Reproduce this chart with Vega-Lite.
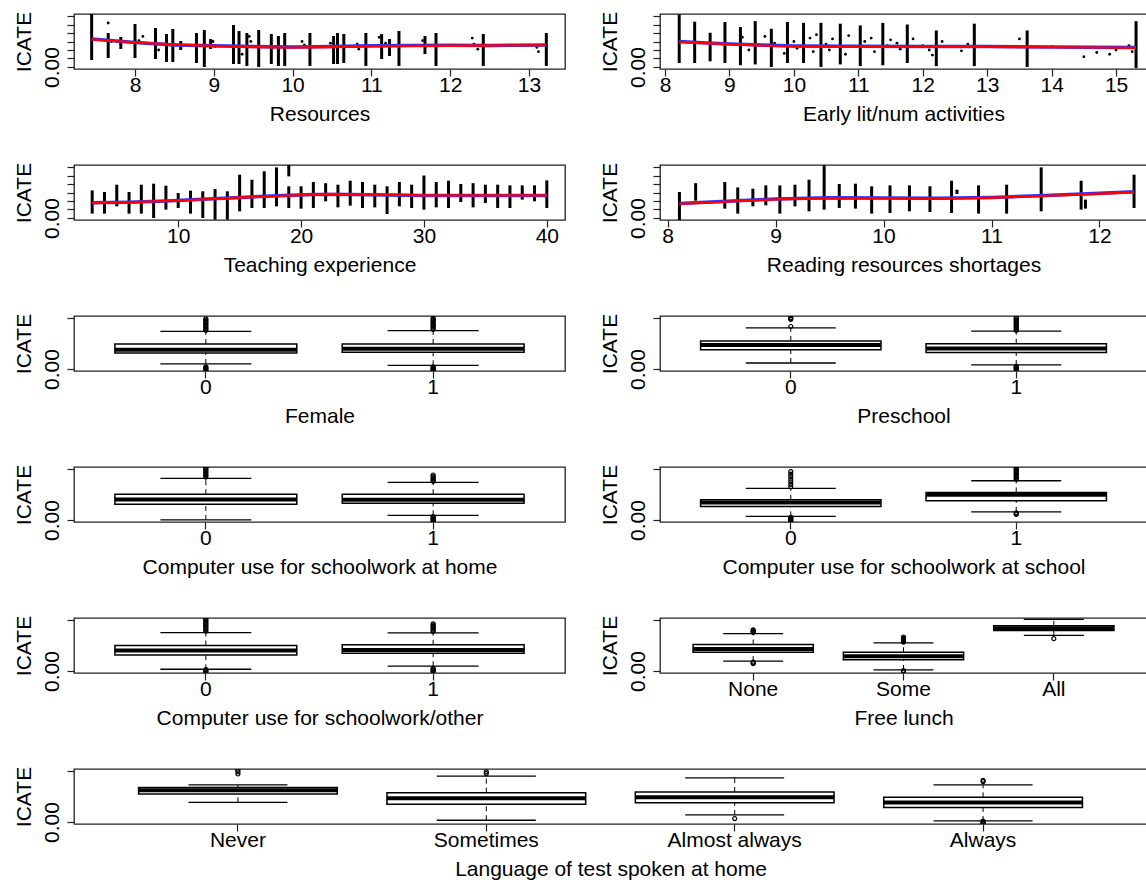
{
  "$schema": "https://vega.github.io/schema/vega-lite/v6.json",
  "background": "white",
  "padding": {"left": 12, "top": 10, "right": 0, "bottom": 0},
  "bounds": "flush",
  "spacing": 151,
  "config": {
    "font": "Liberation Sans",
    "view": {"stroke": "#222222", "strokeWidth": 1.3},
    "axis": {
      "domain": false, "grid": false, "ticks": true,
      "tickColor": "#222222", "tickSize": 7, "tickWidth": 1.2,
      "labelFont": "Liberation Sans", "labelFontSize": 21, "labelColor": "black",
      "titleFont": "Liberation Sans", "titleFontSize": 21, "titleFontWeight": "normal", "titleColor": "black",
      "labelPadding": -2, "titlePadding": 8, "labelOverlap": false, "labelFlush": false
    },
    "axisX": {"labelAngle": 0},
    "axisY": {"labelAngle": 270, "labelAlign": "center", "labelBaseline": "bottom", "labelPadding": 5, "titlePadding": 7}
  },
  "vconcat": [
    {
      "bounds": "flush", "spacing": 95,
      "hconcat": [
        {
          "width": 491, "height": 55,
          "encoding": {
            "x": {"field": "x", "type": "quantitative", "scale": {"domain": [7.226, 13.457], "nice": false, "zero": false}, "axis": {"title": "Resources", "values": [8, 9, 10, 11, 12, 13]}},
            "y": {"field": "y", "type": "quantitative", "scale": {"domain": [-0.0024, 0.0624], "nice": false, "zero": false}, "axis": {"title": "ICATE", "values": [0, 0.01, 0.02, 0.03, 0.04, 0.05, 0.06], "labelExpr": "datum.value === 0 ? '0.00' : ''"}}
          },
          "layer": [
            {"data": {"values": [
              {"x":7.45,"y":0.0624,"bot":0.0082},{"x":7.66,"y":0.040,"bot":0.0106},{"x":7.82,"y":0.0353,"bot":0.0212},{"x":8.0,"y":0.0506,"bot":0.0106},{"x":8.26,"y":0.0459,"bot":0.0094},{"x":8.4,"y":0.0388,"bot":0.0059},{"x":8.48,"y":0.0447,"bot":0.0059},{"x":8.58,"y":0.0306,"bot":0.020},{"x":8.78,"y":0.040,"bot":0.0047},{"x":8.88,"y":0.0435,"bot":0.0},{"x":8.96,"y":0.0329,"bot":0.0212},{"x":9.25,"y":0.0494,"bot":0.0035},{"x":9.32,"y":0.0424,"bot":0.0035},{"x":9.42,"y":0.040,"bot":0.0012},{"x":9.57,"y":0.0435,"bot":0.0},{"x":9.73,"y":0.0388,"bot":0.0035},{"x":9.82,"y":0.0365,"bot":0.0012},{"x":9.9,"y":0.040,"bot":0.0012},{"x":10.22,"y":0.040,"bot":0.0012},{"x":10.52,"y":0.0365,"bot":0.0035},{"x":10.57,"y":0.040,"bot":0.0035},{"x":10.65,"y":0.0388,"bot":0.0047},{"x":10.93,"y":0.040,"bot":0.0012},{"x":11.13,"y":0.0388,"bot":0.0094},{"x":11.23,"y":0.0329,"bot":0.0129},{"x":11.35,"y":0.0424,"bot":0.0012},{"x":11.68,"y":0.0365,"bot":0.0153},{"x":11.82,"y":0.040,"bot":0.0012},{"x":12.42,"y":0.0388,"bot":0.0012},{"x":13.22,"y":0.040,"bot":0.0012}
            ]}, "mark": {"type": "rule", "color": "black", "strokeWidth": 3, "clip": true}, "encoding": {"y2": {"field": "bot"}}},
            {"data": {"values": [
              {"x":7.66,"y":0.0518},{"x":7.7,"y":0.03},{"x":7.82,"y":0.027},{"x":8.05,"y":0.031},{"x":8.1,"y":0.036},{"x":8.3,"y":0.02},{"x":8.52,"y":0.026},{"x":8.99,"y":0.03},{"x":9.02,"y":0.024},{"x":9.36,"y":0.015},{"x":9.45,"y":0.036},{"x":9.47,"y":0.03},{"x":10.12,"y":0.03},{"x":10.15,"y":0.026},{"x":10.48,"y":0.028},{"x":10.82,"y":0.027},{"x":10.84,"y":0.021},{"x":11.1,"y":0.035},{"x":11.18,"y":0.028},{"x":11.65,"y":0.031},{"x":11.7,"y":0.025},{"x":12.28,"y":0.034},{"x":12.3,"y":0.027},{"x":12.35,"y":0.021},{"x":13.1,"y":0.023},{"x":13.12,"y":0.018}
            ]}, "mark": {"type": "circle", "color": "black", "size": 8, "opacity": 1, "clip": true}, "encoding": {}},
            {"data": {"values": [
              {"x":7.45,"y":0.0330},{"x":8,"y":0.0288},{"x":8.5,"y":0.0260},{"x":9,"y":0.0250},{"x":9.5,"y":0.0242},{"x":10,"y":0.0236},{"x":10.5,"y":0.0240},{"x":11,"y":0.0250},{"x":11.5,"y":0.0254},{"x":12,"y":0.0256},{"x":12.5,"y":0.0254},{"x":13.22,"y":0.0260}
            ]}, "mark": {"type": "line", "color": "#3030ff", "strokeWidth": 3.5, "clip": true}, "encoding": {}},
            {"data": {"values": [
              {"x":7.45,"y":0.0326},{"x":8,"y":0.029},{"x":8.5,"y":0.0265},{"x":9,"y":0.0247},{"x":9.5,"y":0.0235},{"x":10,"y":0.0228},{"x":10.5,"y":0.0235},{"x":11,"y":0.0244},{"x":11.5,"y":0.0248},{"x":12,"y":0.025},{"x":12.5,"y":0.0253},{"x":13.22,"y":0.0258}
            ]}, "mark": {"type": "line", "color": "#ff0000", "strokeWidth": 2.3, "clip": true}, "encoding": {}}
          ]
        },
        {
          "width": 487, "height": 55,
          "encoding": {
            "x": {"field": "x", "type": "quantitative", "scale": {"domain": [7.922, 15.48], "nice": false, "zero": false}, "axis": {"title": "Early lit/num activities", "values": [8, 9, 10, 11, 12, 13, 14, 15]}},
            "y": {"field": "y", "type": "quantitative", "scale": {"domain": [-0.0024, 0.0624], "nice": false, "zero": false}, "axis": {"title": "ICATE", "values": [0, 0.01, 0.02, 0.03, 0.04, 0.05, 0.06], "labelExpr": "datum.value === 0 ? '0.00' : ''"}}
          },
          "layer": [
            {"data": {"values": [
              {"x":8.22,"y":0.062,"bot":0.0047},{"x":8.46,"y":0.0534,"bot":0.0047},{"x":8.70,"y":0.0403,"bot":0.0067},{"x":8.93,"y":0.053,"bot":0.0047},{"x":9.17,"y":0.047,"bot":0.002},{"x":9.40,"y":0.054,"bot":0.003},{"x":9.65,"y":0.045,"bot":0.0},{"x":9.90,"y":0.053,"bot":0.0047},{"x":10.15,"y":0.052,"bot":0.0047},{"x":10.42,"y":0.052,"bot":0.0},{"x":10.72,"y":0.051,"bot":0.003},{"x":11.03,"y":0.049,"bot":0.001},{"x":11.38,"y":0.052,"bot":0.002},{"x":11.76,"y":0.05,"bot":0.0047},{"x":12.21,"y":0.043,"bot":0.001},{"x":12.80,"y":0.051,"bot":0.001},{"x":13.62,"y":0.043,"bot":0.0},{"x":15.31,"y":0.054,"bot":-0.0012}
            ]}, "mark": {"type": "rule", "color": "black", "strokeWidth": 3, "clip": true}, "encoding": {"y2": {"field": "bot"}}},
            {"data": {"values": [
              {"x":9.2,"y":0.035},{"x":9.3,"y":0.02},{"x":9.55,"y":0.036},{"x":9.7,"y":0.028},{"x":9.85,"y":0.016},{"x":10.0,"y":0.03},{"x":10.05,"y":0.022},{"x":10.25,"y":0.034},{"x":10.3,"y":0.018},{"x":10.35,"y":0.038},{"x":10.5,"y":0.027},{"x":10.55,"y":0.02},{"x":10.6,"y":0.033},{"x":10.8,"y":0.015},{"x":10.85,"y":0.037},{"x":10.9,"y":0.024},{"x":11.1,"y":0.03},{"x":11.2,"y":0.034},{"x":11.25,"y":0.018},{"x":11.45,"y":0.025},{"x":11.5,"y":0.032},{"x":11.6,"y":0.028},{"x":11.65,"y":0.021},{"x":11.85,"y":0.033},{"x":12.0,"y":0.025},{"x":12.1,"y":0.02},{"x":12.15,"y":0.014},{"x":12.3,"y":0.03},{"x":12.6,"y":0.019},{"x":12.7,"y":0.027},{"x":13.5,"y":0.033},{"x":14.0,"y":0.024},{"x":14.5,"y":0.012},{"x":14.7,"y":0.017},{"x":14.9,"y":0.015},{"x":15.0,"y":0.02},{"x":15.2,"y":0.025},{"x":15.25,"y":0.018}
            ]}, "mark": {"type": "circle", "color": "black", "size": 8, "opacity": 1, "clip": true}, "encoding": {}},
            {"data": {"values": [
              {"x":8.22,"y":0.0300},{"x":8.5,"y":0.0288},{"x":9,"y":0.0272},{"x":9.5,"y":0.0258},{"x":10,"y":0.0248},{"x":11,"y":0.0243},{"x":12,"y":0.0240},{"x":13,"y":0.0240},{"x":14,"y":0.0236},{"x":15.31,"y":0.0228}
            ]}, "mark": {"type": "line", "color": "#3030ff", "strokeWidth": 3.5, "clip": true}, "encoding": {}},
            {"data": {"values": [
              {"x":8.22,"y":0.0296},{"x":8.5,"y":0.0285},{"x":9,"y":0.0268},{"x":9.5,"y":0.0252},{"x":10,"y":0.0243},{"x":10.5,"y":0.0240},{"x":11,"y":0.0238},{"x":12,"y":0.0237},{"x":13,"y":0.0237},{"x":14,"y":0.0233},{"x":15.31,"y":0.0225}
            ]}, "mark": {"type": "line", "color": "#ff0000", "strokeWidth": 2.3, "clip": true}, "encoding": {}}
          ]
        }
      ]
    },
    {
      "bounds": "flush", "spacing": 95,
      "hconcat": [
        {
          "width": 491, "height": 55,
          "encoding": {
            "x": {"field": "x", "type": "quantitative", "scale": {"domain": [1.52, 41.48], "nice": false, "zero": false}, "axis": {"title": "Teaching experience", "values": [10, 20, 30, 40]}},
            "y": {"field": "y", "type": "quantitative", "scale": {"domain": [-0.0024, 0.0624], "nice": false, "zero": false}, "axis": {"title": "ICATE", "values": [0, 0.01, 0.02, 0.03, 0.04, 0.05, 0.06], "labelExpr": "datum.value === 0 ? '0.00' : ''"}}
          },
          "layer": [
            {"data": {"values": [
              {"x":3,"y":0.0325,"bot":0.0051},{"x":4,"y":0.0306,"bot":0.0051},{"x":5,"y":0.0392,"bot":0.0137},{"x":6,"y":0.0306,"bot":0.0051},{"x":7,"y":0.0392,"bot":0.0051},{"x":8,"y":0.0404,"bot":0.0},{"x":9,"y":0.038,"bot":0.0098},{"x":10,"y":0.0294,"bot":0.0118},{"x":11,"y":0.0322,"bot":0.0051},{"x":12,"y":0.0314,"bot":0.0},{"x":13,"y":0.034,"bot":-0.002},{"x":14,"y":0.0314,"bot":-0.002},{"x":15,"y":0.051,"bot":0.0078},{"x":16,"y":0.045,"bot":0.0118},{"x":17,"y":0.055,"bot":0.0118},{"x":18,"y":0.0596,"bot":0.0137},{"x":19,"y":0.0373,"bot":0.0118},{"x":19,"y":0.0624,"bot":0.049},{"x":20,"y":0.0373,"bot":0.011},{"x":21,"y":0.0424,"bot":0.0118},{"x":22,"y":0.041,"bot":0.0196},{"x":23,"y":0.0392,"bot":0.0125},{"x":24,"y":0.0439,"bot":0.0145},{"x":25,"y":0.0424,"bot":0.0118},{"x":26,"y":0.0392,"bot":0.0125},{"x":27,"y":0.0373,"bot":0.0047},{"x":28,"y":0.0424,"bot":0.0137},{"x":29,"y":0.0392,"bot":0.0118},{"x":30,"y":0.050,"bot":0.0098},{"x":31,"y":0.0424,"bot":0.0125},{"x":32,"y":0.0439,"bot":0.0118},{"x":33,"y":0.040,"bot":0.0188},{"x":34,"y":0.041,"bot":0.0125},{"x":35,"y":0.0392,"bot":0.0176},{"x":36,"y":0.0392,"bot":0.0118},{"x":37,"y":0.0384,"bot":0.0118},{"x":38,"y":0.0384,"bot":0.0216},{"x":39,"y":0.0384,"bot":0.0196},{"x":40,"y":0.0443,"bot":0.0118}
            ]}, "mark": {"type": "rule", "color": "black", "strokeWidth": 3, "clip": true}, "encoding": {"y2": {"field": "bot"}}},
            {"data": {"values": [
              {"x":3,"y":0.0180},{"x":6,"y":0.0186},{"x":9,"y":0.0200},{"x":12,"y":0.0220},{"x":15,"y":0.0240},{"x":18,"y":0.0262},{"x":21,"y":0.0276},{"x":24,"y":0.0276},{"x":27,"y":0.0270},{"x":30,"y":0.0265},{"x":35,"y":0.0264},{"x":40,"y":0.0266}
            ]}, "mark": {"type": "line", "color": "#3030ff", "strokeWidth": 3.5, "clip": true}, "encoding": {}},
            {"data": {"values": [
              {"x":3,"y":0.0176},{"x":5,"y":0.0180},{"x":8,"y":0.0196},{"x":10,"y":0.0205},{"x":12,"y":0.0218},{"x":14,"y":0.0232},{"x":16,"y":0.0247},{"x":18,"y":0.0258},{"x":20,"y":0.0268},{"x":22,"y":0.0284},{"x":24,"y":0.0282},{"x":26,"y":0.0275},{"x":28,"y":0.0271},{"x":30,"y":0.0266},{"x":34,"y":0.0266},{"x":40,"y":0.0266}
            ]}, "mark": {"type": "line", "color": "#ff0000", "strokeWidth": 2.3, "clip": true}, "encoding": {}}
          ]
        },
        {
          "width": 487, "height": 55,
          "encoding": {
            "x": {"field": "x", "type": "quantitative", "scale": {"domain": [7.93, 12.44], "nice": false, "zero": false}, "axis": {"title": "Reading resources shortages", "values": [8, 9, 10, 11, 12]}},
            "y": {"field": "y", "type": "quantitative", "scale": {"domain": [-0.0024, 0.0624], "nice": false, "zero": false}, "axis": {"title": "ICATE", "values": [0, 0.01, 0.02, 0.03, 0.04, 0.05, 0.06], "labelExpr": "datum.value === 0 ? '0.00' : ''"}}
          },
          "layer": [
            {"data": {"values": [
              {"x":8.11,"y":0.0306,"bot":-0.003},{"x":8.26,"y":0.041,"bot":0.0204},{"x":8.53,"y":0.0424,"bot":0.011},{"x":8.65,"y":0.036,"bot":0.0051},{"x":8.79,"y":0.0345,"bot":0.0137},{"x":8.91,"y":0.0384,"bot":0.0149},{"x":9.04,"y":0.0384,"bot":0.0051},{"x":9.18,"y":0.0392,"bot":0.0137},{"x":9.31,"y":0.0451,"bot":0.0078},{"x":9.45,"y":0.0624,"bot":0.0098},{"x":9.59,"y":0.040,"bot":0.0118},{"x":9.74,"y":0.0404,"bot":0.011},{"x":9.89,"y":0.0373,"bot":0.0051},{"x":10.06,"y":0.0384,"bot":0.0059},{"x":10.24,"y":0.0384,"bot":0.0078},{"x":10.43,"y":0.0373,"bot":0.0071},{"x":10.63,"y":0.0439,"bot":0.0059},{"x":10.68,"y":0.0333,"bot":0.0282},{"x":10.88,"y":0.0384,"bot":0.0051},{"x":11.14,"y":0.0392,"bot":0.0051},{"x":11.46,"y":0.0596,"bot":0.0078},{"x":11.83,"y":0.0439,"bot":0.0098},{"x":11.87,"y":0.0216,"bot":0.011},{"x":12.32,"y":0.051,"bot":0.0118}
            ]}, "mark": {"type": "rule", "color": "black", "strokeWidth": 3, "clip": true}, "encoding": {"y2": {"field": "bot"}}},
            {"data": {"values": [
              {"x":8.11,"y":0.0170},{"x":8.5,"y":0.0195},{"x":9,"y":0.0222},{"x":9.5,"y":0.0238},{"x":10,"y":0.0236},{"x":10.5,"y":0.0232},{"x":11,"y":0.0242},{"x":11.5,"y":0.0264},{"x":12,"y":0.0290},{"x":12.32,"y":0.0308}
            ]}, "mark": {"type": "line", "color": "#3030ff", "strokeWidth": 3.5, "clip": true}, "encoding": {}},
            {"data": {"values": [
              {"x":8.11,"y":0.0165},{"x":8.5,"y":0.0190},{"x":9,"y":0.0218},{"x":9.5,"y":0.0234},{"x":10,"y":0.0232},{"x":10.5,"y":0.0228},{"x":11,"y":0.0238},{"x":11.5,"y":0.0260},{"x":12,"y":0.0285},{"x":12.32,"y":0.0303}
            ]}, "mark": {"type": "line", "color": "#ff0000", "strokeWidth": 2.3, "clip": true}, "encoding": {}}
          ]
        }
      ]
    },
    {
      "bounds": "flush", "spacing": 95,
      "hconcat": [
        {
          "width": 491, "height": 55,
          "data": {"values": [
            {"g":"0","lo":0.0059,"q1":0.0188,"med":0.0227,"q3":0.0294,"hi":0.0443},
            {"g":"1","lo":0.0043,"q1":0.0196,"med":0.0239,"q3":0.0294,"hi":0.0451}
          ]},
          "encoding": {"x": {"field": "g", "type": "nominal", "sort": ["0", "1"], "scale": {"paddingInner": 0.2, "paddingOuter": 0.18}, "axis": {"title": "Female", "labelAngle": 0}}},
          "layer": [
            {"mark": {"type": "rule", "color": "black", "strokeWidth": 1, "strokeDash": [5, 4]}, "encoding": {"y": {"field": "q3", "type": "quantitative", "scale": {"domain": [-0.0024, 0.0624], "nice": false, "zero": false}, "axis": {"title": "ICATE", "values": [0, 0.01, 0.02, 0.03, 0.04, 0.05, 0.06], "labelExpr": "datum.value === 0 ? '0.00' : ''"}}, "y2": {"field": "hi"}}},
            {"mark": {"type": "rule", "color": "black", "strokeWidth": 1, "strokeDash": [5, 4]}, "encoding": {"y": {"field": "lo", "type": "quantitative", "axis": {"title": "ICATE"}}, "y2": {"field": "q1"}}},
            {"mark": {"type": "tick", "color": "black", "opacity": 1, "size": 91, "thickness": 1.3}, "encoding": {"y": {"field": "hi", "type": "quantitative", "axis": {"title": "ICATE"}}}},
            {"mark": {"type": "tick", "color": "black", "opacity": 1, "size": 91, "thickness": 1.3}, "encoding": {"y": {"field": "lo", "type": "quantitative", "axis": {"title": "ICATE"}}}},
            {"mark": {"type": "bar", "fill": "white", "stroke": "black", "strokeWidth": 1.5}, "encoding": {"y": {"field": "q1", "type": "quantitative", "axis": {"title": "ICATE"}}, "y2": {"field": "q3"}}},
            {"mark": {"type": "tick", "color": "black", "opacity": 1, "size": 182, "thickness": 4}, "encoding": {"y": {"field": "med", "type": "quantitative", "axis": {"title": "ICATE"}}}},
            {"data": {"values": [
              {"g":"0","v":0.0455},{"g":"0","v":0.047},{"g":"0","v":0.0485},{"g":"0","v":0.050},{"g":"0","v":0.0515},{"g":"0","v":0.053},{"g":"0","v":0.0545},{"g":"0","v":0.056},{"g":"0","v":0.0575},{"g":"0","v":0.059},{"g":"0","v":0.0025},{"g":"0","v":0.0015},{"g":"0","v":0.0005},{"g":"0","v":-0.0005},{"g":"0","v":-0.0015},
              {"g":"1","v":0.0465},{"g":"1","v":0.048},{"g":"1","v":0.0495},{"g":"1","v":0.051},{"g":"1","v":0.0525},{"g":"1","v":0.054},{"g":"1","v":0.0555},{"g":"1","v":0.057},{"g":"1","v":0.0585},{"g":"1","v":0.060},{"g":"1","v":0.0025},{"g":"1","v":0.0015},{"g":"1","v":0.0005},{"g":"1","v":-0.0005},{"g":"1","v":-0.0015}
            ]}, "mark": {"type": "point", "shape": "circle", "filled": false, "color": "black", "opacity": 1, "size": 16, "strokeWidth": 1.2, "clip": true}, "encoding": {"y": {"field": "v", "type": "quantitative", "axis": {"title": "ICATE"}}}}
          ]
        },
        {
          "width": 487, "height": 55,
          "data": {"values": [
            {"g":"0","lo":0.007,"q1":0.0225,"med":0.0283,"q3":0.033,"hi":0.0484},
            {"g":"1","lo":0.0047,"q1":0.0194,"med":0.024,"q3":0.0298,"hi":0.0446}
          ]},
          "encoding": {"x": {"field": "g", "type": "nominal", "sort": ["0", "1"], "scale": {"paddingInner": 0.2, "paddingOuter": 0.18}, "axis": {"title": "Preschool", "labelAngle": 0}}},
          "layer": [
            {"mark": {"type": "rule", "color": "black", "strokeWidth": 1, "strokeDash": [5, 4]}, "encoding": {"y": {"field": "q3", "type": "quantitative", "scale": {"domain": [-0.0024, 0.0624], "nice": false, "zero": false}, "axis": {"title": "ICATE", "values": [0, 0.01, 0.02, 0.03, 0.04, 0.05, 0.06], "labelExpr": "datum.value === 0 ? '0.00' : ''"}}, "y2": {"field": "hi"}}},
            {"mark": {"type": "rule", "color": "black", "strokeWidth": 1, "strokeDash": [5, 4]}, "encoding": {"y": {"field": "lo", "type": "quantitative", "axis": {"title": "ICATE"}}, "y2": {"field": "q1"}}},
            {"mark": {"type": "tick", "color": "black", "opacity": 1, "size": 90, "thickness": 1.3}, "encoding": {"y": {"field": "hi", "type": "quantitative", "axis": {"title": "ICATE"}}}},
            {"mark": {"type": "tick", "color": "black", "opacity": 1, "size": 90, "thickness": 1.3}, "encoding": {"y": {"field": "lo", "type": "quantitative", "axis": {"title": "ICATE"}}}},
            {"mark": {"type": "bar", "fill": "white", "stroke": "black", "strokeWidth": 1.5}, "encoding": {"y": {"field": "q1", "type": "quantitative", "axis": {"title": "ICATE"}}, "y2": {"field": "q3"}}},
            {"mark": {"type": "tick", "color": "black", "opacity": 1, "size": 180, "thickness": 4}, "encoding": {"y": {"field": "med", "type": "quantitative", "axis": {"title": "ICATE"}}}},
            {"data": {"values": [
              {"g":"0","v":0.050},{"g":"0","v":0.0585},{"g":"0","v":0.0595},{"g":"0","v":0.0605},
              {"g":"1","v":0.0455},{"g":"1","v":0.047},{"g":"1","v":0.0485},{"g":"1","v":0.050},{"g":"1","v":0.0515},{"g":"1","v":0.053},{"g":"1","v":0.0545},{"g":"1","v":0.056},{"g":"1","v":0.0575},{"g":"1","v":0.059},{"g":"1","v":0.0605},{"g":"1","v":0.003},{"g":"1","v":0.002},{"g":"1","v":0.001},{"g":"1","v":0.0},{"g":"1","v":-0.001}
            ]}, "mark": {"type": "point", "shape": "circle", "filled": false, "color": "black", "opacity": 1, "size": 16, "strokeWidth": 1.2, "clip": true}, "encoding": {"y": {"field": "v", "type": "quantitative", "axis": {"title": "ICATE"}}}}
          ]
        }
      ]
    },
    {
      "bounds": "flush", "spacing": 95,
      "hconcat": [
        {
          "width": 491, "height": 55,
          "data": {"values": [
            {"g":"0","lo":0.0,"q1":0.0186,"med":0.0241,"q3":0.0304,"hi":0.049},
            {"g":"1","lo":0.0055,"q1":0.0198,"med":0.0237,"q3":0.0304,"hi":0.0443}
          ]},
          "encoding": {"x": {"field": "g", "type": "nominal", "sort": ["0", "1"], "scale": {"paddingInner": 0.2, "paddingOuter": 0.18}, "axis": {"title": "Computer use for schoolwork at home", "labelAngle": 0}}},
          "layer": [
            {"mark": {"type": "rule", "color": "black", "strokeWidth": 1, "strokeDash": [5, 4]}, "encoding": {"y": {"field": "q3", "type": "quantitative", "scale": {"domain": [-0.0024, 0.0624], "nice": false, "zero": false}, "axis": {"title": "ICATE", "values": [0, 0.01, 0.02, 0.03, 0.04, 0.05, 0.06], "labelExpr": "datum.value === 0 ? '0.00' : ''"}}, "y2": {"field": "hi"}}},
            {"mark": {"type": "rule", "color": "black", "strokeWidth": 1, "strokeDash": [5, 4]}, "encoding": {"y": {"field": "lo", "type": "quantitative", "axis": {"title": "ICATE"}}, "y2": {"field": "q1"}}},
            {"mark": {"type": "tick", "color": "black", "opacity": 1, "size": 91, "thickness": 1.3}, "encoding": {"y": {"field": "hi", "type": "quantitative", "axis": {"title": "ICATE"}}}},
            {"mark": {"type": "tick", "color": "black", "opacity": 1, "size": 91, "thickness": 1.3}, "encoding": {"y": {"field": "lo", "type": "quantitative", "axis": {"title": "ICATE"}}}},
            {"mark": {"type": "bar", "fill": "white", "stroke": "black", "strokeWidth": 1.5}, "encoding": {"y": {"field": "q1", "type": "quantitative", "axis": {"title": "ICATE"}}, "y2": {"field": "q3"}}},
            {"mark": {"type": "tick", "color": "black", "opacity": 1, "size": 182, "thickness": 4}, "encoding": {"y": {"field": "med", "type": "quantitative", "axis": {"title": "ICATE"}}}},
            {"data": {"values": [
              {"g":"0","v":0.0505},{"g":"0","v":0.052},{"g":"0","v":0.0535},{"g":"0","v":0.055},{"g":"0","v":0.0565},{"g":"0","v":0.058},{"g":"0","v":0.0595},{"g":"0","v":0.061},{"g":"0","v":0.062},
              {"g":"1","v":0.0455},{"g":"1","v":0.047},{"g":"1","v":0.0485},{"g":"1","v":0.050},{"g":"1","v":0.0515},{"g":"1","v":0.053},{"g":"1","v":0.004},{"g":"1","v":0.003},{"g":"1","v":0.002},{"g":"1","v":0.001},{"g":"1","v":0.0},{"g":"1","v":-0.001},{"g":"1","v":-0.002}
            ]}, "mark": {"type": "point", "shape": "circle", "filled": false, "color": "black", "opacity": 1, "size": 16, "strokeWidth": 1.2, "clip": true}, "encoding": {"y": {"field": "v", "type": "quantitative", "axis": {"title": "ICATE"}}}}
          ]
        },
        {
          "width": 487, "height": 55,
          "data": {"values": [
            {"g":"0","lo":0.0043,"q1":0.0158,"med":0.0206,"q3":0.0237,"hi":0.0372},
            {"g":"1","lo":0.0095,"q1":0.0225,"med":0.0296,"q3":0.0324,"hi":0.0462}
          ]},
          "encoding": {"x": {"field": "g", "type": "nominal", "sort": ["0", "1"], "scale": {"paddingInner": 0.2, "paddingOuter": 0.18}, "axis": {"title": "Computer use for schoolwork at school", "labelAngle": 0}}},
          "layer": [
            {"mark": {"type": "rule", "color": "black", "strokeWidth": 1, "strokeDash": [5, 4]}, "encoding": {"y": {"field": "q3", "type": "quantitative", "scale": {"domain": [-0.0024, 0.0624], "nice": false, "zero": false}, "axis": {"title": "ICATE", "values": [0, 0.01, 0.02, 0.03, 0.04, 0.05, 0.06], "labelExpr": "datum.value === 0 ? '0.00' : ''"}}, "y2": {"field": "hi"}}},
            {"mark": {"type": "rule", "color": "black", "strokeWidth": 1, "strokeDash": [5, 4]}, "encoding": {"y": {"field": "lo", "type": "quantitative", "axis": {"title": "ICATE"}}, "y2": {"field": "q1"}}},
            {"mark": {"type": "tick", "color": "black", "opacity": 1, "size": 90, "thickness": 1.3}, "encoding": {"y": {"field": "hi", "type": "quantitative", "axis": {"title": "ICATE"}}}},
            {"mark": {"type": "tick", "color": "black", "opacity": 1, "size": 90, "thickness": 1.3}, "encoding": {"y": {"field": "lo", "type": "quantitative", "axis": {"title": "ICATE"}}}},
            {"mark": {"type": "bar", "fill": "white", "stroke": "black", "strokeWidth": 1.5}, "encoding": {"y": {"field": "q1", "type": "quantitative", "axis": {"title": "ICATE"}}, "y2": {"field": "q3"}}},
            {"mark": {"type": "tick", "color": "black", "opacity": 1, "size": 180, "thickness": 4}, "encoding": {"y": {"field": "med", "type": "quantitative", "axis": {"title": "ICATE"}}}},
            {"data": {"values": [
              {"g":"0","v":0.039},{"g":"0","v":0.042},{"g":"0","v":0.045},{"g":"0","v":0.048},{"g":"0","v":0.051},{"g":"0","v":0.054},{"g":"0","v":0.057},{"g":"0","v":0.003},{"g":"0","v":0.002},{"g":"0","v":0.001},{"g":"0","v":0.0},{"g":"0","v":-0.001},{"g":"0","v":-0.002},
              {"g":"1","v":0.048},{"g":"1","v":0.0495},{"g":"1","v":0.051},{"g":"1","v":0.0525},{"g":"1","v":0.054},{"g":"1","v":0.0555},{"g":"1","v":0.057},{"g":"1","v":0.0585},{"g":"1","v":0.060},{"g":"1","v":0.0615},{"g":"1","v":0.0085},{"g":"1","v":0.0075},{"g":"1","v":0.0065}
            ]}, "mark": {"type": "point", "shape": "circle", "filled": false, "color": "black", "opacity": 1, "size": 16, "strokeWidth": 1.2, "clip": true}, "encoding": {"y": {"field": "v", "type": "quantitative", "axis": {"title": "ICATE"}}}}
          ]
        }
      ]
    },
    {
      "bounds": "flush", "spacing": 95,
      "hconcat": [
        {
          "width": 491, "height": 55,
          "data": {"values": [
            {"g":"0","lo":0.002,"q1":0.0188,"med":0.024,"q3":0.030,"hi":0.0452},
            {"g":"1","lo":0.0056,"q1":0.0208,"med":0.0248,"q3":0.0308,"hi":0.0448}
          ]},
          "encoding": {"x": {"field": "g", "type": "nominal", "sort": ["0", "1"], "scale": {"paddingInner": 0.2, "paddingOuter": 0.18}, "axis": {"title": "Computer use for schoolwork/other", "labelAngle": 0}}},
          "layer": [
            {"mark": {"type": "rule", "color": "black", "strokeWidth": 1, "strokeDash": [5, 4]}, "encoding": {"y": {"field": "q3", "type": "quantitative", "scale": {"domain": [-0.0024, 0.0624], "nice": false, "zero": false}, "axis": {"title": "ICATE", "values": [0, 0.01, 0.02, 0.03, 0.04, 0.05, 0.06], "labelExpr": "datum.value === 0 ? '0.00' : ''"}}, "y2": {"field": "hi"}}},
            {"mark": {"type": "rule", "color": "black", "strokeWidth": 1, "strokeDash": [5, 4]}, "encoding": {"y": {"field": "lo", "type": "quantitative", "axis": {"title": "ICATE"}}, "y2": {"field": "q1"}}},
            {"mark": {"type": "tick", "color": "black", "opacity": 1, "size": 91, "thickness": 1.3}, "encoding": {"y": {"field": "hi", "type": "quantitative", "axis": {"title": "ICATE"}}}},
            {"mark": {"type": "tick", "color": "black", "opacity": 1, "size": 91, "thickness": 1.3}, "encoding": {"y": {"field": "lo", "type": "quantitative", "axis": {"title": "ICATE"}}}},
            {"mark": {"type": "bar", "fill": "white", "stroke": "black", "strokeWidth": 1.5}, "encoding": {"y": {"field": "q1", "type": "quantitative", "axis": {"title": "ICATE"}}, "y2": {"field": "q3"}}},
            {"mark": {"type": "tick", "color": "black", "opacity": 1, "size": 182, "thickness": 4}, "encoding": {"y": {"field": "med", "type": "quantitative", "axis": {"title": "ICATE"}}}},
            {"data": {"values": [
              {"g":"0","v":0.047},{"g":"0","v":0.0485},{"g":"0","v":0.050},{"g":"0","v":0.0515},{"g":"0","v":0.053},{"g":"0","v":0.0545},{"g":"0","v":0.056},{"g":"0","v":0.0575},{"g":"0","v":0.059},{"g":"0","v":0.0605},{"g":"0","v":0.062},{"g":"0","v":0.0015},{"g":"0","v":0.0005},{"g":"0","v":-0.0005},{"g":"0","v":-0.0015},
              {"g":"1","v":0.0465},{"g":"1","v":0.048},{"g":"1","v":0.0495},{"g":"1","v":0.051},{"g":"1","v":0.0525},{"g":"1","v":0.054},{"g":"1","v":0.0555},{"g":"1","v":0.003},{"g":"1","v":0.002},{"g":"1","v":0.001},{"g":"1","v":0.0},{"g":"1","v":-0.001}
            ]}, "mark": {"type": "point", "shape": "circle", "filled": false, "color": "black", "opacity": 1, "size": 16, "strokeWidth": 1.2, "clip": true}, "encoding": {"y": {"field": "v", "type": "quantitative", "axis": {"title": "ICATE"}}}}
          ]
        },
        {
          "width": 487, "height": 55,
          "data": {"values": [
            {"g":"None","lo":0.0116,"q1":0.022,"med":0.026,"q3":0.0312,"hi":0.044},
            {"g":"Some","lo":0.0012,"q1":0.0132,"med":0.0172,"q3":0.022,"hi":0.0332},
            {"g":"All","lo":0.042,"q1":0.0476,"med":0.0504,"q3":0.0532,"hi":0.0608}
          ]},
          "encoding": {"x": {"field": "g", "type": "nominal", "sort": ["None", "Some", "All"], "scale": {"paddingInner": 0.2, "paddingOuter": 0.22}, "axis": {"title": "Free lunch", "labelAngle": 0}}},
          "layer": [
            {"mark": {"type": "rule", "color": "black", "strokeWidth": 1, "strokeDash": [5, 4]}, "encoding": {"y": {"field": "q3", "type": "quantitative", "scale": {"domain": [-0.0024, 0.0624], "nice": false, "zero": false}, "axis": {"title": "ICATE", "values": [0, 0.01, 0.02, 0.03, 0.04, 0.05, 0.06], "labelExpr": "datum.value === 0 ? '0.00' : ''"}}, "y2": {"field": "hi"}}},
            {"mark": {"type": "rule", "color": "black", "strokeWidth": 1, "strokeDash": [5, 4]}, "encoding": {"y": {"field": "lo", "type": "quantitative", "axis": {"title": "ICATE"}}, "y2": {"field": "q1"}}},
            {"mark": {"type": "tick", "color": "black", "opacity": 1, "size": 60, "thickness": 1.3}, "encoding": {"y": {"field": "hi", "type": "quantitative", "axis": {"title": "ICATE"}}}},
            {"mark": {"type": "tick", "color": "black", "opacity": 1, "size": 60, "thickness": 1.3}, "encoding": {"y": {"field": "lo", "type": "quantitative", "axis": {"title": "ICATE"}}}},
            {"mark": {"type": "bar", "fill": "white", "stroke": "black", "strokeWidth": 1.5}, "encoding": {"y": {"field": "q1", "type": "quantitative", "axis": {"title": "ICATE"}}, "y2": {"field": "q3"}}},
            {"mark": {"type": "tick", "color": "black", "opacity": 1, "size": 120, "thickness": 4}, "encoding": {"y": {"field": "med", "type": "quantitative", "axis": {"title": "ICATE"}}}},
            {"data": {"values": [
              {"g":"None","v":0.0455},{"g":"None","v":0.0465},{"g":"None","v":0.0475},{"g":"None","v":0.0485},{"g":"None","v":0.0105},{"g":"None","v":0.0095},{"g":"None","v":0.0085},
              {"g":"Some","v":0.034},{"g":"Some","v":0.035},{"g":"Some","v":0.036},{"g":"Some","v":0.037},{"g":"Some","v":0.038},{"g":"Some","v":0.039},{"g":"Some","v":0.040},{"g":"Some","v":0.0005},{"g":"Some","v":-0.0003},{"g":"Some","v":-0.001},
              {"g":"All","v":0.038}
            ]}, "mark": {"type": "point", "shape": "circle", "filled": false, "color": "black", "opacity": 1, "size": 16, "strokeWidth": 1.2, "clip": true}, "encoding": {"y": {"field": "v", "type": "quantitative", "axis": {"title": "ICATE"}}}}
          ]
        }
      ]
    },
    {
      "width": 1073, "height": 55,
      "data": {"values": [
        {"g":"Never","lo":0.023,"q1":0.0329,"med":0.0373,"q3":0.0405,"hi":0.0437},
        {"g":"Sometimes","lo":0.002,"q1":0.021,"med":0.0278,"q3":0.0345,"hi":0.054},
        {"g":"Almost always","lo":0.0083,"q1":0.0226,"med":0.029,"q3":0.0353,"hi":0.052},
        {"g":"Always","lo":0.0012,"q1":0.0171,"med":0.023,"q3":0.029,"hi":0.0437}
      ]},
      "encoding": {"x": {"field": "g", "type": "nominal", "sort": ["Never", "Sometimes", "Almost always", "Always"], "scale": {"paddingInner": 0.2, "paddingOuter": 0.26}, "axis": {"title": "Language of test spoken at home", "labelAngle": 0}}},
      "layer": [
        {"mark": {"type": "rule", "color": "black", "strokeWidth": 1, "strokeDash": [5, 4]}, "encoding": {"y": {"field": "q3", "type": "quantitative", "scale": {"domain": [-0.0024, 0.0624], "nice": false, "zero": false}, "axis": {"title": "ICATE", "values": [0, 0.01, 0.02, 0.03, 0.04, 0.05, 0.06], "labelExpr": "datum.value === 0 ? '0.00' : ''"}}, "y2": {"field": "hi"}}},
        {"mark": {"type": "rule", "color": "black", "strokeWidth": 1, "strokeDash": [5, 4]}, "encoding": {"y": {"field": "lo", "type": "quantitative", "axis": {"title": "ICATE"}}, "y2": {"field": "q1"}}},
        {"mark": {"type": "tick", "color": "black", "opacity": 1, "size": 99, "thickness": 1.3}, "encoding": {"y": {"field": "hi", "type": "quantitative", "axis": {"title": "ICATE"}}}},
        {"mark": {"type": "tick", "color": "black", "opacity": 1, "size": 99, "thickness": 1.3}, "encoding": {"y": {"field": "lo", "type": "quantitative", "axis": {"title": "ICATE"}}}},
        {"mark": {"type": "bar", "fill": "white", "stroke": "black", "strokeWidth": 1.5}, "encoding": {"y": {"field": "q1", "type": "quantitative", "axis": {"title": "ICATE"}}, "y2": {"field": "q3"}}},
        {"mark": {"type": "tick", "color": "black", "opacity": 1, "size": 199, "thickness": 4}, "encoding": {"y": {"field": "med", "type": "quantitative", "axis": {"title": "ICATE"}}}},
        {"data": {"values": [
          {"g":"Never","v":0.0565},{"g":"Never","v":0.059},{"g":"Never","v":0.061},
          {"g":"Sometimes","v":0.057},{"g":"Sometimes","v":0.059},
          {"g":"Almost always","v":0.004},
          {"g":"Always","v":0.0476},{"g":"Always","v":0.049},{"g":"Always","v":0.001},{"g":"Always","v":0.0},{"g":"Always","v":-0.001},{"g":"Always","v":-0.002}
        ]}, "mark": {"type": "point", "shape": "circle", "filled": false, "color": "black", "opacity": 1, "size": 16, "strokeWidth": 1.2, "clip": true}, "encoding": {"y": {"field": "v", "type": "quantitative", "axis": {"title": "ICATE"}}}}
      ]
    }
  ]
}
